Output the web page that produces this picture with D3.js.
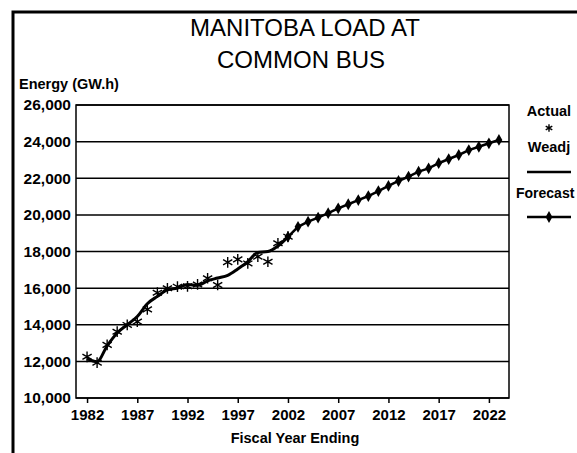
<!DOCTYPE html>
<html>
<head>
<meta charset="utf-8">
<script src="https://cdn.jsdelivr.net/npm/d3@7"></script>
<style>
  body { margin: 0; background: #fff; }
  svg text { font-family: Arial, "Liberation Sans", sans-serif; fill: #000; }
</style>
</head>
<body>
<svg id="chart" width="577" height="453"></svg>
<script>
// Actual energy (asterisks)
const actualYears = [1982, 1983, 1984, 1985, 1986, 1987, 1988, 1989, 1990, 1991, 1992,
                     1993, 1994, 1995, 1996, 1997, 1998, 1999, 2000, 2001, 2002];
const actualValues = [12250, 11930, 12900, 13620, 13990, 14170, 14840, 15750, 15990, 16080, 16100,
                      16200, 16540, 16170, 17410, 17570, 17350, 17720, 17440, 18450, 18810];

// Weather adjusted (plain line)
const weadjYears = actualYears;
const weadjValues = [12150, 11980, 12850, 13550, 14000, 14450, 15150, 15550, 15900, 16000, 16200,
                     16150, 16400, 16550, 16700, 17050, 17450, 17950, 18000, 18300, 18800];

// Forecast (line with diamonds)
const forecastYears = [2002, 2003, 2004, 2005, 2006, 2007, 2008, 2009, 2010, 2011, 2012, 2013,
                       2014, 2015, 2016, 2017, 2018, 2019, 2020, 2021, 2022, 2023];
const forecastValues = [18800, 19350, 19630, 19850, 20090, 20360, 20580, 20810, 21030, 21300, 21580, 21850,
                        22090, 22360, 22540, 22820, 23050, 23270, 23540, 23720, 23910, 24090];

const xTicks = [1982, 1987, 1992, 1997, 2002, 2007, 2012, 2017, 2022];
const yTicks = [10000, 12000, 14000, 16000, 18000, 20000, 22000, 24000, 26000];

const svg = d3.select('#chart');
const plotLeft = 76, plotRight = 509, plotTop = 105, plotBottom = 398;

const x = d3.scaleLinear().domain([1980.9, 2024]).range([plotLeft, plotRight]);
const y = d3.scaleLinear().domain([10000, 26000]).range([plotBottom, plotTop]);

// outer frame (cut off at right and bottom)
svg.append('path')
    .attr('d', 'M13,453 V12 H577')
    .attr('fill', 'none')
    .attr('stroke', '#000')
    .attr('stroke-width', 3);

// title
svg.append('text').attr('x', 305).attr('y', 36)
    .attr('text-anchor', 'middle').attr('font-size', 24)
    .text('MANITOBA LOAD AT');
svg.append('text').attr('x', 301).attr('y', 68)
    .attr('text-anchor', 'middle').attr('font-size', 24)
    .text('COMMON BUS');

svg.append('text').attr('x', 19).attr('y', 89)
    .attr('font-size', 14.5).attr('font-weight', 'bold')
    .text('Energy (GW.h)');

// gridlines
svg.append('g')
    .selectAll('line')
    .data(yTicks)
    .enter()
    .append('line')
    .attr('x1', plotLeft).attr('x2', plotRight)
    .attr('y1', d => y(d)).attr('y2', d => y(d))
    .attr('stroke', '#000').attr('stroke-width', 1.5);

// plot border
svg.append('rect')
    .attr('x', plotLeft).attr('y', plotTop)
    .attr('width', plotRight - plotLeft).attr('height', plotBottom - plotTop)
    .attr('fill', 'none').attr('stroke', '#000').attr('stroke-width', 1.5);

// y axis labels
const yAxis = d3.axisLeft(y).tickValues(yTicks).tickSize(0).tickPadding(5)
    .tickFormat(d3.format(','));
svg.append('g')
    .attr('transform', `translate(${plotLeft},0)`)
    .call(yAxis)
    .call(g => g.select('.domain').remove())
    .selectAll('text')
    .attr('font-size', 15.5).attr('font-weight', 'bold')
    .attr('font-family', 'Arial, "Liberation Sans", sans-serif');

// x axis
const xAxis = d3.axisBottom(x).tickValues(xTicks).tickSize(5).tickPadding(6)
    .tickFormat(d3.format('d'));
svg.append('g')
    .attr('transform', `translate(0,${plotBottom})`)
    .call(xAxis)
    .call(g => g.select('.domain').remove())
    .call(g => g.selectAll('line').attr('stroke-width', 1.5))
    .selectAll('text')
    .attr('font-size', 15).attr('font-weight', 'bold')
    .attr('font-family', 'Arial, "Liberation Sans", sans-serif');

svg.append('text').attr('x', 295).attr('y', 443)
    .attr('text-anchor', 'middle').attr('font-size', 14.5).attr('font-weight', 'bold')
    .text('Fiscal Year Ending');

// weather adjusted line
const weadj = weadjYears.map((yr, i) => [yr, weadjValues[i]]);
const line = d3.line().x(d => x(d[0])).y(d => y(d[1])).curve(d3.curveMonotoneX);
svg.append('path')
    .datum(weadj)
    .attr('d', line)
    .attr('fill', 'none').attr('stroke', '#000').attr('stroke-width', 3);

// forecast line + diamonds
const forecast = forecastYears.map((yr, i) => [yr, forecastValues[i]]);
svg.append('path')
    .datum(forecast)
    .attr('d', d3.line().x(d => x(d[0])).y(d => y(d[1])))
    .attr('fill', 'none').attr('stroke', '#000').attr('stroke-width', 2.5);
svg.append('g')
    .selectAll('path')
    .data(forecast)
    .enter()
    .append('path')
    .attr('transform', d => `translate(${x(d[0])},${y(d[1])})`)
    .attr('d', d3.symbol().type(d3.symbolDiamond).size(40))
    .attr('fill', '#000');

// actual asterisks
const actual = actualYears.map((yr, i) => [yr, actualValues[i]]);
svg.append('g')
    .selectAll('path')
    .data(actual)
    .enter()
    .append('path')
    .attr('transform', d => `translate(${x(d[0])},${y(d[1])})`)
    .attr('d', d3.symbol().type(d3.symbolAsterisk).size(80))
    .attr('fill', 'none').attr('stroke', '#000').attr('stroke-width', 1.4);

// legend
const lx = 549;
svg.append('text').attr('x', lx).attr('y', 116)
    .attr('text-anchor', 'middle').attr('font-size', 14.5).attr('font-weight', 'bold')
    .text('Actual');
svg.append('path')
    .attr('transform', `translate(${lx},128)`)
    .attr('d', d3.symbol().type(d3.symbolAsterisk).size(40))
    .attr('fill', 'none').attr('stroke', '#000').attr('stroke-width', 1.4);
svg.append('text').attr('x', lx).attr('y', 152)
    .attr('text-anchor', 'middle').attr('font-size', 14.5).attr('font-weight', 'bold')
    .text('Weadj');
svg.append('line')
    .attr('x1', lx - 22).attr('x2', lx + 22).attr('y1', 172).attr('y2', 172)
    .attr('stroke', '#000').attr('stroke-width', 2.5);
svg.append('text').attr('x', 516).attr('y', 198)
    .attr('font-size', 14).attr('font-weight', 'bold')
    .text('Forecast');
svg.append('line')
    .attr('x1', lx - 22).attr('x2', lx + 22).attr('y1', 217).attr('y2', 217)
    .attr('stroke', '#000').attr('stroke-width', 2.5);
svg.append('path')
    .attr('transform', `translate(${lx},217)`)
    .attr('d', d3.symbol().type(d3.symbolDiamond).size(40))
    .attr('fill', '#000');
</script>
</body>
</html>
